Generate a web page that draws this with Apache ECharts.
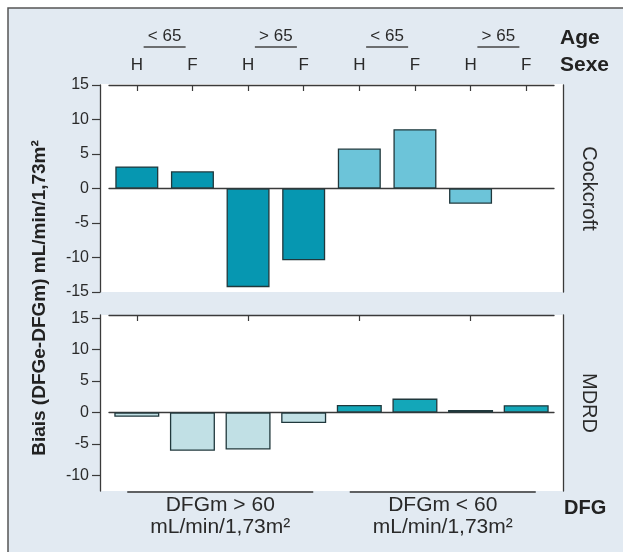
<!DOCTYPE html>
<html><head><meta charset="utf-8">
<script src="https://cdn.jsdelivr.net/npm/echarts@6/dist/echarts.min.js"></script>
<style>html,body{margin:0;padding:0;background:#fff}#c{width:623px;height:552px}</style>
</head><body><div id="c"></div>
<script>
// ---- data ----
const categories = ['>60 <65 H','>60 <65 F','>60 >65 H','>60 >65 F','<60 <65 H','<60 <65 F','<60 >65 H','<60 >65 F'];
const sexLabels = ['H','F','H','F','H','F','H','F'];
const ageKeys = ['>60 <65','>60 >65','<60 <65','<60 >65'];
const ageLabels = ['< 65','> 65','< 65','> 65'];
const dfgKeys = ['>60','<60'];
const dfgLabels = ['DFGm > 60\nmL/min/1,73m²','DFGm < 60\nmL/min/1,73m²'];
const cockcroftValues = [3.2, 2.5, -14.3, -10.4, 5.8, 8.6, -2.2, null];
const mdrdValues = [-0.7, -6.1, -5.9, -1.7, 1.2, 2.2, 0.4, 1.15];
const cockcroftTicks = [-15, -10, -5, 0, 5, 10, 15];
const mdrdTicks = [-10, -5, 0, 5, 10, 15];
const panelNames = ['Cockcroft', 'MDRD'];
const yTitle = 'Biais (DFGe-DFGm) mL/min/1,73m²';

// ---- styles ----
const FONT = '"Liberation Sans", Arial, sans-serif';
const AX = '#3a3a3a';
const TXT = '#2a2a2a';
const BG = '#e2eaf2';
const topColors = ['#0697b1', '#6cc4d9'];
const botColors = ['#c1e0e5', '#13a7b9'];
const G1 = {left: 109, right: 69, top: 85, height: 207};
const G2 = {left: 109, right: 69, top: 315, height: 176};

const chart = echarts.init(document.getElementById('c'), null, {renderer: 'canvas'});

function catAxis(grid, extra) {
  return Object.assign({
    type: 'category', gridIndex: grid, data: categories,
    axisLine: {show: true, onZero: false, lineStyle: {color: AX, width: 1.3}},
    axisTick: {show: false}, axisLabel: {show: false}, splitLine: {show: false}
  }, extra);
}
function leftY(grid, min, max, ticks) {
  return {
    type: 'value', gridIndex: grid, min: min, max: max, position: 'left', offset: 9,
    axisLine: {show: true, lineStyle: {color: AX, width: 1.3}},
    axisTick: {show: true, length: 8, lineStyle: {color: AX, width: 1.2}, customValues: ticks},
    axisLabel: {show: true, color: TXT, fontSize: 16, fontFamily: FONT, margin: 11, customValues: ticks},
    splitLine: {show: false}
  };
}
function rightY(grid, min, max, name) {
  return {
    type: 'value', gridIndex: grid, min: min, max: max, position: 'right', offset: 9,
    axisLine: {show: true, lineStyle: {color: AX, width: 1.3}},
    axisTick: {show: false}, axisLabel: {show: false}, splitLine: {show: false},
    name: name, nameLocation: 'middle', nameRotate: -90, nameGap: 16,
    nameTextStyle: {color: TXT, fontSize: 20, fontFamily: FONT}
  };
}

const option = {
  animation: false,
  backgroundColor: 'transparent',
  grid: [
    Object.assign({containLabel: false}, G1),
    Object.assign({containLabel: false}, G2)
  ],
  xAxis: [
    catAxis(0, {position: 'top',
      axisTick: {show: true, inside: true, length: 6, alignWithLabel: true, lineStyle: {color: AX, width: 1.2}},
      axisLabel: {show: true, color: TXT, fontSize: 17, fontFamily: FONT, margin: 11,
        formatter: (v, i) => sexLabels[i]}}),
    catAxis(0, {position: 'bottom', axisLine: {show: true, onZero: true, lineStyle: {color: AX, width: 1.3}}}),
    {type: 'category', gridIndex: 0, data: ageKeys, position: 'top', offset: 32,
      axisLine: {show: false}, axisTick: {show: false}, splitLine: {show: false},
      axisLabel: {show: true, color: TXT, fontSize: 17, fontFamily: FONT, margin: 8,
        formatter: (v, i) => ageLabels[i]}},
    catAxis(1, {position: 'top',
      axisTick: {show: true, inside: true, length: 6, alignWithLabel: true, lineStyle: {color: AX, width: 1.2}}}),
    catAxis(1, {position: 'bottom', axisLine: {show: true, onZero: true, lineStyle: {color: AX, width: 1.3}}}),
    {type: 'category', gridIndex: 1, data: dfgKeys, position: 'bottom',
      axisLine: {show: false, onZero: false}, axisTick: {show: false}, splitLine: {show: false},
      axisLabel: {show: true, color: TXT, fontSize: 21, lineHeight: 22, fontFamily: FONT, margin: 3,
        formatter: (v, i) => dfgLabels[i]}}
  ],
  yAxis: [
    leftY(0, -15, 15, cockcroftTicks),
    rightY(0, -15, 15, panelNames[0]),
    leftY(1, -12.5, 15.5, mdrdTicks),
    rightY(1, -12.5, 15.5, panelNames[1])
  ],
  series: [
    {type: 'bar', xAxisIndex: 0, yAxisIndex: 0, barWidth: 43, z: 3,
      data: cockcroftValues.map((v, i) => ({value: v,
        itemStyle: {color: topColors[i < 4 ? 0 : 1], borderColor: '#20383c', borderWidth: 1.3}}))},
    {type: 'bar', xAxisIndex: 3, yAxisIndex: 2, barWidth: 45, z: 3,
      data: mdrdValues.map((v, i) => ({value: v,
        itemStyle: {color: botColors[i < 4 ? 0 : 1], borderColor: '#20383c', borderWidth: 1.3}}))}
  ]
};
chart.setOption(option);

const W = 623, H = 552;
const graphics = [
  {type: 'rect', z: -100, shape: {x: 8, y: 8, width: W, height: H}, style: {fill: BG, stroke: '#555', lineWidth: 1.5}},
  {type: 'rect', z: -90, shape: {x: G1.left - 9, y: G1.top - 1, width: W - G1.right - G1.left + 18, height: G1.height + 1}, style: {fill: '#fff'}},
  {type: 'rect', z: -90, shape: {x: G2.left - 9, y: G2.top, width: W - G2.right - G2.left + 18, height: G2.height}, style: {fill: '#fff'}},
  {type: 'text', z: 100, x: 40, y: 298, rotation: Math.PI / 2,
    style: {text: yTitle, font: 'bold 19px ' + FONT, fill: '#222', align: 'center', verticalAlign: 'middle'}},
  {type: 'text', z: 100, x: 560, y: 38, style: {text: 'Age', font: 'bold 21px ' + FONT, fill: '#222', verticalAlign: 'middle'}},
  {type: 'text', z: 100, x: 560, y: 65, style: {text: 'Sexe', font: 'bold 21px ' + FONT, fill: '#222', verticalAlign: 'middle'}},
  {type: 'text', z: 100, x: 564, y: 508, style: {text: 'DFG', font: 'bold 20px ' + FONT, fill: '#222', verticalAlign: 'middle'}}
];
ageKeys.forEach((k, i) => {
  const cx = chart.convertToPixel({xAxisIndex: 2}, i);
  graphics.push({type: 'line', z: 100, shape: {x1: cx - 21, y1: 47, x2: cx + 21, y2: 47}, style: {stroke: '#444', lineWidth: 1.6}});
});
dfgKeys.forEach((k, i) => {
  const cx = chart.convertToPixel({xAxisIndex: 5}, i);
  graphics.push({type: 'line', z: 100, shape: {x1: cx - 93, y1: 492, x2: cx + 93, y2: 492}, style: {stroke: '#333', lineWidth: 1.4}});
});
chart.setOption({graphic: graphics});
</script></body></html>
